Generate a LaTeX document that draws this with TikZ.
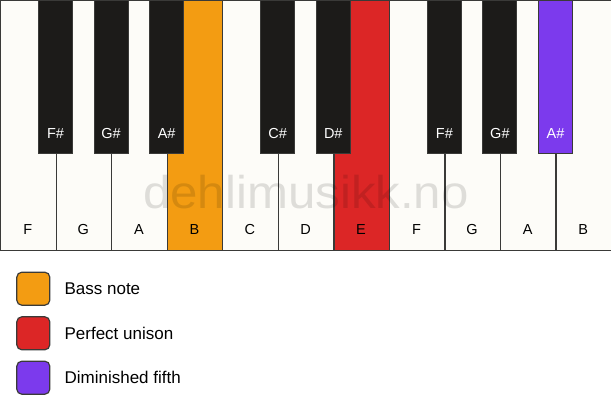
\documentclass[tikz,border=0pt]{standalone}
\usepackage{fontspec}
\setmainfont{Liberation Sans}
\usetikzlibrary{positioning}

\definecolor{keyline}{HTML}{3A3A38}
\definecolor{keywhite}{HTML}{FDFCF8}
\definecolor{keyblack}{HTML}{1C1B19}
\definecolor{bassnote}{HTML}{F39C12}
\definecolor{unison}{HTML}{DC2626}
\definecolor{dimfifth}{HTML}{7C3AED}

\tikzset{
  whitekey/.style={draw=keyline, fill=keywhite, line width=1.3pt, minimum width=55.545pt, minimum height=250pt, inner sep=0pt, anchor=north west},
  blackkey/.style={draw=keyline, fill=keyblack, line width=1pt, minimum width=34pt, minimum height=153pt, inner sep=0pt, anchor=north},
  keylabel/.style={anchor=base, font=\fontsize{14.5}{16}\selectfont, inner sep=0pt},
  legendbox/.style={draw=keyline, line width=1.2pt, rounded corners=5pt, minimum size=33pt, inner sep=0pt},
  legendtext/.style={anchor=west, font=\fontsize{17}{20}\selectfont, inner sep=0pt}
}

\begin{document}
\begin{tikzpicture}[x=1pt,y=-1pt]
\useasboundingbox (0,0) rectangle (611,417);

% Drawing white keys F to B
\foreach \i/\kn/\kc in {1/F/keywhite, 2/G/keywhite, 3/A/keywhite, 4/B/bassnote, 5/C/keywhite, 6/D/keywhite, 7/E/unison, 8/F/keywhite, 9/G/keywhite, 10/A/keywhite, 11/B/keywhite}{
  \node[whitekey, fill=\kc] (wk\i) at ({(\i-1)*55.545},0) {};%
  \node[keylabel] (wl\i) at ({(\i-0.5)*55.545},235) {\kn};%
}

% Drawing black keys on the boundaries
\foreach \i/\kn/\kc in {1/F\#/keyblack, 2/G\#/keyblack, 3/A\#/keyblack, 5/C\#/keyblack, 6/D\#/keyblack, 8/F\#/keyblack, 9/G\#/keyblack, 10/A\#/dimfifth}{
  \node[blackkey, fill=\kc] (bk\i) at ({\i*55.545},0) {};%
  \node[keylabel, text=white] (bl\i) at ({\i*55.545},139) {\kn};%
}

% Watermark
\node[anchor=base, inner sep=0pt, font=\fontsize{46}{50}\selectfont, text=black, opacity=0.12, xscale=1.07] (wmark) at (306,208) {dehlimusikk.no};%

% Legend
\node[legendbox, fill=bassnote] (lb1) at (33.3,288.7) {};%
\node[legendtext, right=14pt of lb1] (lt1) {Bass note};%
\node[legendbox, fill=unison] (lb2) at (33.3,333.3) {};%
\node[legendtext, right=14pt of lb2] (lt2) {Perfect unison};%
\node[legendbox, fill=dimfifth] (lb3) at (33.3,377.7) {};%
\node[legendtext, right=14pt of lb3] (lt3) {Diminished fifth};%
\end{tikzpicture}
\end{document}
